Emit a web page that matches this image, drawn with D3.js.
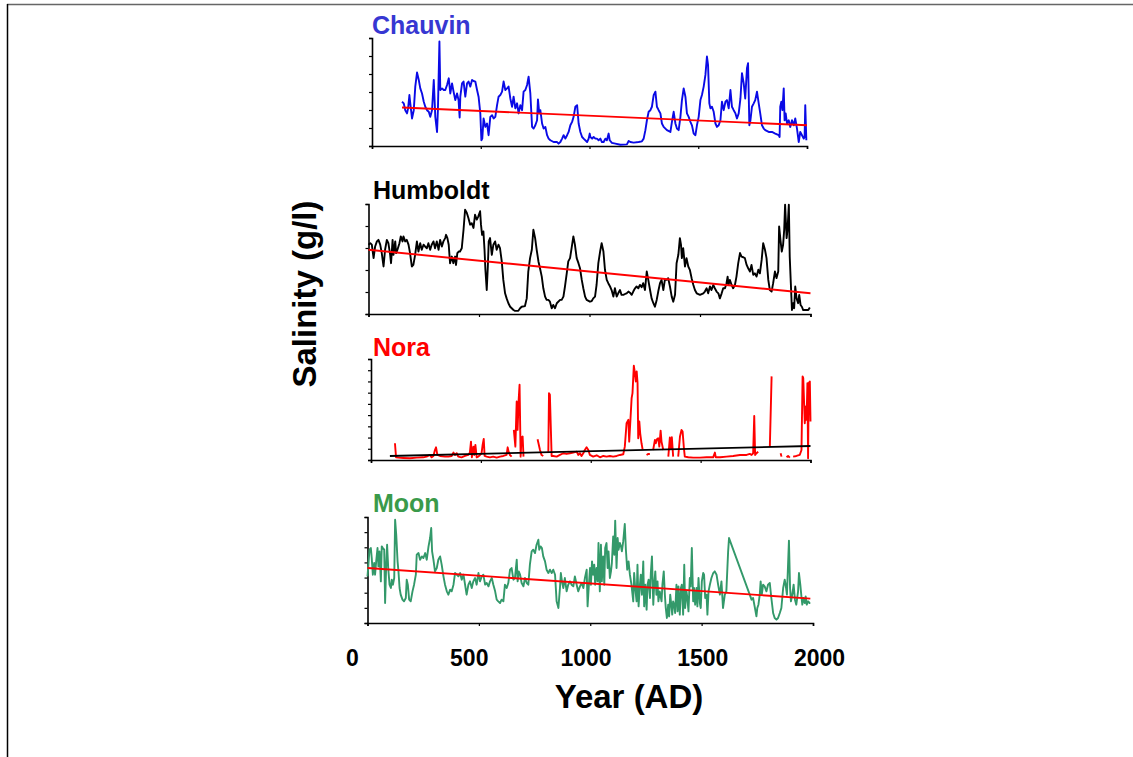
<!DOCTYPE html>
<html>
<head>
<meta charset="utf-8">
<script src="https://cdn.jsdelivr.net/npm/d3@7"></script>
<style>
  html, body { margin: 0; padding: 0; background: #fff; }
  svg { display: block; font-family: "Liberation Sans", Arial, sans-serif; }
</style>
</head>
<body>
<svg id="chart" width="1133" height="757"></svg>
<script>
// ---- Data (salinity in axis-tick units; null = gap in record) ----
const xTickValues = [0, 500, 1000, 1500, 2000];

const chauvinYears = [138,146,153,161,166,172,176,184,192,199,207,215,222,230,238,245,253,261,268,276,284,291,299,303,310,314,322,330,337,345,353,360,368,375,383,391,398,403,406,414,421,429,437,444,452,460,467,475,483,490,498,503,507,513,521,529,536,544,552,559,567,575,582,590,598,605,613,621,628,636,644,651,659,667,674,682,690,697,705,713,720,728,736,743,751,759,763,769,774,782,789,797,805,812,820,835,851,858,866,874,881,889,897,904,912,920,927,935,943,950,958,966,973,989,996,1001,1004,1012,1019,1027,1034,1042,1050,1057,1065,1073,1080,1088,1093,1103,1119,1142,1172,1180,1188,1203,1226,1241,1249,1257,1264,1272,1280,1287,1295,1303,1310,1318,1326,1333,1341,1356,1372,1379,1387,1395,1402,1410,1418,1425,1433,1441,1448,1456,1464,1471,1479,1487,1494,1502,1510,1517,1525,1533,1540,1545,1551,1556,1563,1571,1579,1586,1594,1602,1609,1617,1625,1632,1640,1648,1655,1663,1671,1678,1686,1694,1701,1709,1716,1724,1729,1735,1740,1747,1755,1762,1770,1778,1785,1793,1801,1808,1824,1839,1854,1870,1874,1877,1882,1887,1893,1897,1902,1908,1916,1923,1931,1939,1946,1954,1962,1969,1977,1985,1989,1992,1997];
const chauvinSalinity = [2.46,2.37,1.99,1.81,2.09,2.83,2.37,1.53,1.99,3.30,4.08,3.67,3.20,2.92,2.46,2.18,1.99,1.90,1.62,1.99,3.67,1.62,0.78,1.99,5.81,3.11,3.20,3.11,3.11,3.39,3.76,2.92,3.48,3.02,2.55,2.92,2.55,1.58,2.74,3.48,3.58,2.74,3.48,3.58,3.30,3.67,3.61,3.58,3.11,2.74,1.81,0.32,0.41,1.53,1.06,1.25,0.60,1.62,1.71,1.53,1.62,2.27,2.74,2.83,3.02,3.58,3.11,3.20,3.30,2.64,2.18,2.74,2.09,2.37,1.81,2.27,1.99,3.02,3.11,3.39,3.85,2.92,1.06,0.97,1.15,1.43,2.59,1.81,1.99,1.25,0.97,1.06,0.60,0.41,0.32,0.22,0.22,0.13,0.22,0.41,0.60,0.41,0.60,0.78,1.15,1.34,1.62,2.18,2.27,1.25,0.78,0.50,0.41,0.22,0.41,0.69,0.50,0.41,0.50,0.41,0.41,0.32,0.41,0.22,0.22,0.41,0.32,0.69,0.32,0.17,0.13,0.07,0.09,0.28,0.22,0.19,0.22,0.26,0.41,0.88,1.43,1.90,1.99,2.18,2.83,3.02,2.18,1.99,1.81,1.25,1.06,0.88,0.78,1.34,1.90,1.25,0.97,0.88,1.62,2.55,3.20,2.74,1.81,1.62,1.34,1.15,0.69,0.60,1.15,1.62,2.55,2.83,3.30,3.95,4.97,4.51,2.37,2.09,2.18,1.90,1.25,1.06,1.15,1.43,2.46,1.99,2.46,2.55,2.09,3.11,2.18,1.99,1.81,1.53,1.81,2.64,4.04,3.48,2.64,4.32,4.60,1.15,1.43,2.18,2.37,2.55,3.02,2.37,1.81,1.15,0.97,0.88,0.78,0.78,0.69,0.60,0.50,2.18,2.46,1.99,3.20,1.43,1.81,1.25,1.43,1.06,1.43,1.15,1.53,0.97,0.22,0.78,0.60,0.41,0.50,2.27,0.32];
const chauvinTrendYears = [138, 2000];
const chauvinTrendValues = [2.14, 1.15];

const humboldtYears = [0,8,15,23,30,38,45,53,60,68,75,83,90,98,102,109,113,121,125,131,140,146,154,158,166,173,181,188,196,203,211,219,226,234,241,249,256,264,271,279,286,294,301,309,317,324,332,339,347,351,357,363,369,377,384,392,396,402,408,414,422,430,437,445,452,460,467,475,482,490,497,505,509,514,520,525,529,535,540,544,550,558,565,573,580,588,595,603,610,618,625,633,641,648,656,663,678,686,693,708,716,723,731,739,746,754,761,769,776,784,791,799,806,814,821,829,836,844,852,867,874,882,889,897,904,912,919,927,934,942,950,957,965,972,980,987,1002,1010,1017,1025,1032,1040,1048,1055,1063,1070,1078,1085,1093,1100,1108,1115,1123,1130,1138,1145,1153,1161,1168,1176,1183,1191,1198,1206,1213,1221,1228,1236,1243,1251,1259,1266,1274,1281,1289,1296,1304,1311,1319,1326,1334,1341,1349,1356,1364,1372,1379,1387,1394,1402,1409,1414,1418,1424,1432,1439,1447,1454,1462,1470,1477,1485,1500,1515,1522,1530,1537,1545,1552,1560,1567,1575,1583,1590,1598,1605,1613,1620,1625,1629,1635,1643,1650,1658,1665,1673,1681,1688,1696,1703,1711,1718,1726,1733,1741,1748,1756,1764,1771,1779,1786,1794,1801,1809,1816,1824,1831,1839,1846,1854,1858,1864,1870,1876,1881,1885,1892,1896,1902,1906,1911,1916,1922,1926,1931,1937,1944,1949,1955,1961,1967,1979,1990,1997];
const humboldtSalinity = [3.15,3.22,3.15,2.54,3.07,3.30,3.37,3.15,2.77,2.16,2.92,3.37,3.22,2.69,2.31,3.37,2.69,3.30,2.77,2.92,3.22,3.53,3.30,3.53,3.30,3.37,3.15,2.77,2.16,2.23,2.69,3.30,2.84,3.22,2.92,3.15,3.07,2.99,3.22,2.92,3.15,3.30,2.99,3.30,2.92,3.37,3.07,3.30,3.45,3.60,3.45,3.15,2.31,2.61,2.31,2.61,2.23,2.77,2.84,2.84,2.99,3.83,4.74,4.59,4.36,4.06,4.13,3.91,4.51,4.29,4.44,4.67,4.06,3.60,3.75,2.92,2.01,1.09,2.16,3.30,3.45,2.69,3.15,3.30,2.92,3.15,2.99,2.39,1.55,0.94,0.71,0.49,0.33,0.26,0.18,0.14,0.15,0.26,0.33,0.36,0.71,1.93,2.54,2.92,3.83,3.45,2.92,2.39,2.08,1.70,1.17,0.79,0.64,0.64,0.56,0.26,0.41,0.26,0.49,0.64,0.64,0.79,1.25,1.85,2.39,2.54,2.99,3.53,3.15,2.54,2.31,2.08,1.55,1.17,0.79,0.64,0.56,0.59,0.71,0.79,1.32,2.31,2.84,3.22,2.84,2.01,1.55,1.40,1.25,1.09,0.79,1.17,0.79,0.94,1.09,0.87,0.87,0.91,0.94,1.02,0.97,0.87,1.02,1.17,1.25,1.17,1.32,1.22,1.40,1.09,1.93,1.55,1.09,0.71,0.49,0.33,0.64,1.02,1.40,1.55,1.09,1.55,1.55,1.63,1.25,0.79,0.56,0.87,2.31,2.69,3.45,3.15,2.54,2.99,2.16,2.54,2.16,2.01,1.63,1.32,1.09,0.94,0.87,0.94,1.02,1.17,0.94,1.25,1.09,1.32,1.17,1.02,0.94,0.71,0.94,1.17,1.17,1.40,1.70,1.32,1.55,1.32,1.17,1.32,1.70,2.31,2.77,2.61,2.58,2.54,2.23,2.08,1.93,2.23,1.78,1.85,1.70,2.01,1.85,2.46,3.22,2.92,2.54,1.55,1.09,1.02,1.40,1.93,1.63,1.93,3.98,3.37,2.84,3.15,3.83,4.97,3.45,3.83,4.97,2.61,1.40,0.18,0.49,0.26,1.25,0.71,0.49,0.87,0.41,0.33,0.18,0.18,0.18,0.30];
const humboldtTrendYears = [0, 2000];
const humboldtTrendValues = [2.92, 0.94];

const noraYears = [109,114,124,147,177,208,238,253,268,276,284,291,296,302,314,337,352,367,375,382,390,397,412,428,443,450,455,459,466,470,475,481,488,496,503,508,513,517,526,541,556,572,587,602,617,622,626,632,640,645,650,657,663,667,672,676,681,685,690,694,720,758,769,776,784,795,807,810,814,822,829,845,860,875,890,905,920,936,943,951,958,966,973,981,989,996,1011,1027,1042,1057,1072,1087,1102,1118,1133,1148,1155,1163,1171,1175,1181,1186,1190,1196,1201,1205,1209,1213,1216,1221,1225,1231,1236,1245,1254,1262,1269,1277,1284,1292,1296,1301,1307,1312,1318,1322,1330,1340,1353,1360,1365,1369,1375,1385,1398,1406,1413,1418,1424,1428,1444,1466,1497,1527,1557,1565,1569,1588,1618,1648,1679,1709,1724,1732,1739,1744,1748,1754,1762,1790,1815,1823,1840,1864,1868,1880,1891,1898,1906,1912,1921,1936,1951,1959,1964,1967,1974,1979,1982,1986,1989,1992,1997,2000];
const noraSalinity = [1.49,0.24,0.21,0.18,0.15,0.21,0.24,0.30,0.45,0.24,0.36,0.89,1.13,0.45,0.36,0.30,0.30,0.36,0.66,0.45,0.60,0.30,0.24,0.36,0.45,0.66,1.64,0.24,1.19,0.45,1.34,0.24,0.30,0.45,0.60,1.34,1.88,0.36,0.30,0.24,0.30,0.21,0.30,0.36,0.45,1.13,0.74,0.45,0.30,null,2.68,1.19,5.21,2.68,5.36,6.70,0.30,2.03,2.09,0.30,null,1.85,0.89,0.45,0.36,null,0.74,5.96,5.81,0.36,0.36,0.30,0.45,0.60,0.54,0.60,0.66,0.74,0.45,0.60,0.36,0.60,0.89,1.13,0.89,0.45,0.30,0.42,0.24,0.36,0.30,0.36,0.30,0.36,0.45,0.51,1.19,3.28,3.58,1.64,3.72,5.51,5.96,8.40,7.75,7.00,7.90,6.85,1.94,3.43,2.38,1.49,0.95,null,0.45,0.54,0.54,null,0.89,1.79,1.49,1.85,1.94,1.19,2.62,1.64,0.89,null,0.30,2.00,1.04,2.03,0.30,null,0.30,2.09,2.68,2.53,1.04,0.30,0.24,0.21,0.21,0.24,0.24,0.66,0.24,0.24,0.30,0.36,0.45,0.45,0.54,0.45,0.60,3.93,0.45,0.60,0.74,null,1.19,7.45,null,0.60,0.30,null,0.24,0.36,0.21,null,0.30,0.36,0.45,0.89,7.45,7.30,3.28,4.77,3.58,6.85,0.15,6.85,7.00,3.43];
const noraTrendYears = [86, 2000];
const noraTrendValues = [0.36, 1.25];

const moonYears = [0,4,9,15,19,24,30,34,39,45,49,54,60,64,69,75,79,84,88,93,99,105,109,114,120,124,129,135,139,144,149,157,164,172,176,181,187,194,202,209,217,221,229,236,244,251,259,266,274,281,286,290,296,303,311,318,326,333,341,348,356,363,371,378,386,393,401,408,416,423,431,438,445,453,460,468,475,483,490,498,505,513,520,528,535,543,550,558,565,573,580,587,595,602,610,617,625,632,640,647,655,662,670,674,679,685,692,700,707,715,722,729,737,744,752,759,767,771,777,783,789,797,804,812,819,827,834,842,849,857,864,868,873,879,886,894,901,909,916,924,931,939,946,954,961,969,976,984,988,993,999,1003,1008,1013,1018,1022,1028,1033,1037,1043,1048,1052,1058,1063,1067,1073,1078,1082,1088,1093,1097,1103,1108,1112,1118,1123,1127,1133,1138,1142,1148,1155,1160,1166,1172,1178,1185,1193,1197,1202,1208,1212,1217,1223,1227,1232,1238,1242,1247,1253,1257,1262,1268,1272,1277,1283,1287,1292,1297,1302,1306,1312,1320,1324,1330,1335,1339,1344,1350,1354,1359,1363,1368,1372,1377,1381,1387,1392,1396,1402,1407,1411,1417,1422,1426,1432,1436,1441,1447,1451,1456,1462,1466,1471,1477,1481,1486,1492,1496,1501,1507,1511,1516,1522,1526,1531,1537,1544,1552,1559,1567,1574,1582,1589,1596,1604,1611,1619,1623,1716,1724,1731,1738,1746,1750,1755,1761,1765,1770,1776,1783,1791,1798,1806,1813,1821,1828,1836,1843,1851,1858,1866,1873,1877,1883,1888,1892,1897,1901,1907,1913,1919,1925,1933,1937,1943,1948,1952,1957,1963,1967,1972,1978,1985,1988];
const moonSalinity = [3.08,3.85,4.84,4.95,4.29,3.19,3.96,3.19,4.07,4.95,3.74,4.73,2.75,5.06,4.95,4.84,1.32,3.85,5.17,3.63,2.53,2.31,2.86,2.53,2.97,6.82,5.83,4.07,3.41,2.31,1.87,1.54,1.43,1.65,2.86,2.53,1.54,1.43,2.09,2.53,3.19,4.51,4.62,4.18,4.40,4.29,4.62,4.18,5.06,5.61,6.27,4.73,4.18,3.41,3.63,4.18,4.40,3.85,3.08,2.53,2.09,1.87,2.20,2.09,2.53,3.30,3.19,3.08,3.30,2.86,3.19,2.53,1.87,2.53,2.75,2.31,2.75,2.97,2.53,3.30,2.75,3.08,3.19,2.53,2.64,2.42,2.75,2.97,2.53,2.09,1.54,1.43,1.32,1.54,1.43,2.53,2.31,2.64,3.52,3.63,2.86,2.97,4.18,2.75,3.41,3.19,2.64,2.42,2.97,2.64,2.53,3.85,4.73,4.84,4.62,5.17,5.50,4.84,5.06,4.95,4.40,4.07,3.52,3.30,3.52,3.30,3.52,3.19,1.43,0.99,2.31,3.30,2.75,2.31,2.97,2.09,2.53,2.75,2.53,2.42,3.08,2.53,2.09,2.42,2.64,2.31,2.97,3.52,1.10,2.31,3.63,2.53,4.07,3.19,3.85,2.53,3.63,2.75,5.28,2.09,5.17,2.75,4.40,2.53,4.95,5.28,3.63,4.73,2.97,3.41,3.96,5.72,4.51,6.76,3.63,5.61,4.84,5.28,5.06,4.73,5.39,6.54,4.84,3.52,4.07,3.19,2.53,1.43,3.30,2.31,1.43,3.85,1.10,2.53,3.19,1.87,4.07,1.10,2.53,0.88,2.53,2.86,1.65,3.30,4.40,1.21,2.53,3.41,1.87,2.75,1.43,2.09,1.43,2.53,3.41,1.87,0.99,0.33,1.21,0.44,1.87,1.32,0.55,1.43,1.21,0.66,2.53,0.77,2.42,0.55,2.31,2.53,0.55,3.85,0.99,2.09,1.65,0.77,2.97,2.42,4.95,1.43,2.31,1.21,2.31,1.10,2.97,1.32,0.99,2.75,3.30,3.19,1.65,1.87,0.55,2.09,2.53,2.97,3.30,3.41,3.19,2.53,1.87,2.75,0.99,1.87,2.09,4.73,5.61,1.87,1.54,1.65,1.10,0.44,0.99,1.21,1.87,2.75,1.87,2.53,2.42,2.09,2.53,2.64,1.65,0.66,0.33,0.22,0.33,0.66,0.99,2.31,2.86,2.53,1.87,3.85,5.44,2.31,1.43,1.87,2.53,1.54,1.21,2.09,3.30,2.53,1.76,1.21,1.65,1.32,1.76,1.21,1.43,1.32,1.32];
const moonTrendYears = [0, 1988];
const moonTrendValues = [3.63, 1.61];

// ---- Panel layout ----
const panels = [
  { name: "Chauvin",  years: chauvinYears,  values: chauvinSalinity,  trendYears: chauvinTrendYears,  trendValues: chauvinTrendValues,
    yMax: 6, x0: 372, x1: 807, yTop: 38, yBot: 146, line: "#0a0ae6", trend: "#ff0000", titleColor: "#3737d2", titleX: 372, titleY: 34 },
  { name: "Humboldt", years: humboldtYears, values: humboldtSalinity, trendYears: humboldtTrendYears, trendValues: humboldtTrendValues,
    yMax: 5, x0: 368.5, x1: 810.5, yTop: 204, yBot: 314, line: "#000000", trend: "#ff0000", titleColor: "#000000", titleX: 373, titleY: 199 },
  { name: "Nora",     years: noraYears,     values: noraSalinity,     trendYears: noraTrendYears,     trendValues: noraTrendValues,
    yMax: 9, x0: 371, x1: 810.5, yTop: 359, yBot: 460, line: "#ff0000", trend: "#000000", titleColor: "#ff0000", titleX: 373, titleY: 356 },
  { name: "Moon",     years: moonYears,     values: moonSalinity,     trendYears: moonTrendYears,     trendValues: moonTrendValues,
    yMax: 7, x0: 367.5, x1: 813, yTop: 517, yBot: 623, line: "#33996a", trend: "#ff0000", titleColor: "#3a9a4a", titleX: 373, titleY: 512 }
];

const svg = d3.select("#chart");

// frame
svg.append("line").attr("x1", 7).attr("x2", 1133).attr("y1", 4.5).attr("y2", 4.5)
  .attr("stroke", "#666").attr("stroke-width", 1.5);
svg.append("line").attr("x1", 7.5).attr("x2", 7.5).attr("y1", 4).attr("y2", 757)
  .attr("stroke", "#000").attr("stroke-width", 1.5);

panels.forEach(p => {
  const x = d3.scaleLinear().domain([0, 2000]).range([p.x0, p.x1]);
  const y = d3.scaleLinear().domain([0, p.yMax]).range([p.yBot, p.yTop]);
  const g = svg.append("g");

  const yAxis = d3.axisLeft(y).tickValues(d3.range(0, p.yMax + 1)).tickSize(3).tickFormat("");
  const xAxis = d3.axisBottom(x).tickValues(xTickValues).tickSize(3).tickFormat("");

  g.append("g").attr("transform", `translate(${p.x0},0)`).call(yAxis)
    .call(a => a.select(".domain").attr("stroke-width", 1.6))
    .call(a => a.selectAll(".tick line").attr("stroke-width", 1.2));
  g.append("g").attr("transform", `translate(0,${p.yBot})`).call(xAxis)
    .call(a => a.select(".domain").attr("stroke-width", 1.6))
    .call(a => a.selectAll(".tick line").attr("stroke-width", 1.2));

  const pts = p.years.map((yr, i) => [yr, p.values[i]]);
  const line = d3.line().defined(d => d[1] !== null).x(d => x(d[0])).y(d => y(d[1]));
  g.append("path").datum(pts).attr("d", line)
    .attr("fill", "none").attr("stroke", p.line).attr("stroke-width", 1.9)
    .attr("stroke-linejoin", "round");

  const tr = p.trendYears.map((yr, i) => [yr, p.trendValues[i]]);
  g.append("path").datum(tr).attr("d", d3.line().x(d => x(d[0])).y(d => y(d[1])))
    .attr("fill", "none").attr("stroke", p.trend).attr("stroke-width", 1.9);

  g.append("text").attr("x", p.titleX).attr("y", p.titleY)
    .attr("fill", p.titleColor).attr("font-size", 25).attr("font-weight", "bold")
    .text(p.name);
});

// shared year labels under the stacked panels
const xLabel = d3.scaleLinear().domain([0, 2000]).range([352, 819]);
const labelAxis = d3.axisBottom(xLabel).tickValues(xTickValues).tickSize(0).tickFormat(d3.format("d"));
svg.append("g").attr("transform", "translate(0,647)").call(labelAxis)
  .call(a => a.select(".domain").remove())
  .call(a => a.selectAll("text").attr("font-size", 23).attr("font-weight", "bold")
    .attr("fill", "#000").attr("font-family", "Liberation Sans, Arial, sans-serif"));

svg.append("text").attr("x", 629).attr("y", 708).attr("text-anchor", "middle")
  .attr("font-size", 33).attr("font-weight", "bold").text("Year (AD)");

svg.append("text").attr("transform", "translate(316,294) rotate(-90)")
  .attr("text-anchor", "middle").attr("font-size", 33).attr("font-weight", "bold")
  .text("Salinity (g/l)");
</script>
</body>
</html>
